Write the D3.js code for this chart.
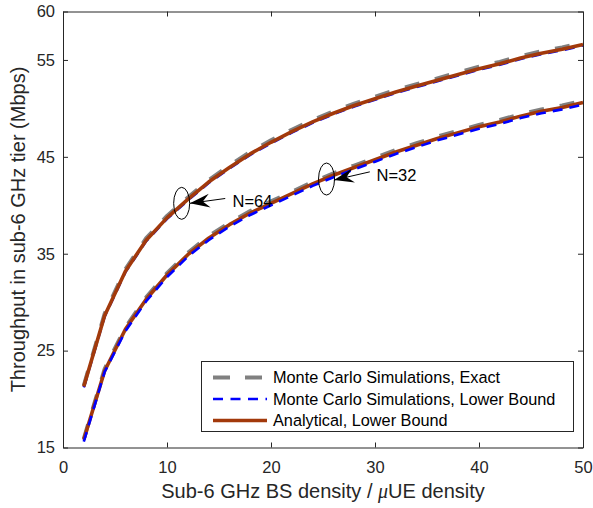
<!DOCTYPE html>
<html>
<head>
<meta charset="utf-8">
<script src="https://cdn.jsdelivr.net/npm/d3@7"></script>
<style>
  html, body { margin: 0; padding: 0; background: #fff; }
  svg { display: block; font-family: "Liberation Sans", Arial, Helvetica, sans-serif; }
</style>
</head>
<body>
<svg id="chart" width="593" height="508"></svg>
<script>
// ---- data ----
const xValues = [2,4,6,8,10,12,14,16,18,20,22,24,26,28,30,32,34,36,38,40,42,44,46,48,50];

// N = 64
const exact64 = [21.4,28.8,33.4,36.6,38.9,40.8,42.6,44.1,45.5,46.7,47.8,48.8,49.7,50.5,51.2,51.9,52.5,53.1,53.7,54.3,54.8,55.4,55.9,56.3,56.8];
const lower64 = [21.2,28.5,33.1,36.3,38.6,40.5,42.3,43.8,45.2,46.4,47.5,48.5,49.4,50.2,50.9,51.6,52.2,52.8,53.4,54.0,54.5,55.1,55.6,56.0,56.5];
const analytic64 = [21.3,28.6,33.2,36.4,38.7,40.6,42.4,43.9,45.3,46.5,47.6,48.6,49.5,50.3,51.0,51.7,52.3,52.9,53.5,54.1,54.6,55.2,55.7,56.1,56.6];

// N = 32
const exact32 = [15.9,23.1,27.4,30.5,33.0,35.1,36.8,38.2,39.4,40.4,41.4,42.4,43.3,44.1,44.9,45.7,46.4,47.1,47.7,48.3,48.8,49.4,49.9,50.3,50.8];
const lower32 = [15.6,22.8,27.0,30.1,32.6,34.7,36.4,37.8,39.0,40.0,41.0,42.0,42.9,43.7,44.5,45.3,46.0,46.7,47.3,47.9,48.4,49.0,49.5,49.9,50.4];
const analytic32 = [15.8,22.9,27.2,30.3,32.8,34.9,36.6,38.0,39.2,40.2,41.2,42.2,43.1,43.9,44.7,45.5,46.2,46.9,47.5,48.1,48.6,49.2,49.7,50.1,50.6];

const xTicks = [0,10,20,30,40,50];
const yTicks = [15,25,35,45,55,60];
const legendLabels = ["Monte Carlo Simulations, Exact", "Monte Carlo Simulations, Lower Bound", "Analytical, Lower Bound"];
// annotations: ellipse centre, arrow tail, arrow tip, label start (data units)
const annotations = [
  {label: "N=64", cx: 11.41, cy: 40.2, tx: 15.6, ty: 40.7, hx: 12.2, hy: 40.2, lx: 16.3, ly: 40.45},
  {label: "N=32", cx: 25.34, cy: 42.71, tx: 29.5, ty: 43.45, hx: 26.05, hy: 42.6, lx: 30.15, ly: 43.1}
];

// ---- layout ----
const svg = d3.select("#chart");
const L = 63, R = 583, T = 11.5, B = 447.5;
const axisColor = "#262626";
const x = d3.scaleLinear().domain([0, 50]).range([L, R]);
const y = d3.scaleLinear().domain([15, 60]).range([B, T]);

const styles = {
  exact: {color: "#808080", width: 4, dash: "15,16"},
  lower: {color: "#0000ff", width: 2.6, dash: "10,7"},
  analytic: {color: "#a2390b", width: 3.6, dash: null}
};

const line = d3.line().x((d, i) => x(xValues[i])).y(d => y(d));

function drawSeries(vals, st) {
  const p = svg.append("path").datum(vals)
    .attr("d", line)
    .attr("fill", "none")
    .attr("stroke", st.color)
    .attr("stroke-width", st.width)
    .attr("stroke-linejoin", "round");
  if (st.dash) p.attr("stroke-dasharray", st.dash);
}

// N=64 group
drawSeries(exact64, styles.exact);
drawSeries(lower64, styles.lower);
drawSeries(analytic64, styles.analytic);
// N=32 group
drawSeries(exact32, styles.exact);
drawSeries(analytic32, styles.analytic);
drawSeries(lower32, styles.lower);

// ---- axes (box with inward ticks) ----
const tickLen = 5;
const gx = svg.append("g").attr("transform", `translate(0,${B})`)
  .call(d3.axisBottom(x).tickValues(xTicks).tickSizeInner(-tickLen).tickSizeOuter(0).tickPadding(14));
const gxt = svg.append("g").attr("transform", `translate(0,${T})`)
  .call(d3.axisTop(x).tickValues(xTicks).tickSizeInner(-tickLen).tickSizeOuter(0).tickFormat(""));
const gy = svg.append("g").attr("transform", `translate(${L},0)`)
  .call(d3.axisLeft(y).tickValues(yTicks).tickSizeInner(-tickLen).tickSizeOuter(0).tickPadding(8));
const gyr = svg.append("g").attr("transform", `translate(${R},0)`)
  .call(d3.axisRight(y).tickValues(yTicks).tickSizeInner(-tickLen).tickSizeOuter(0).tickFormat(""));

[gx, gxt, gy, gyr].forEach(g => {
  g.select(".domain").attr("stroke", axisColor).attr("stroke-width", 1);
  g.selectAll(".tick line").attr("stroke", axisColor).attr("stroke-width", 1);
  g.selectAll(".tick text").attr("fill", axisColor).attr("font-size", 16.5)
    .attr("font-family", '"Liberation Sans", Arial, sans-serif');
});

// ---- axis labels ----
const xl = svg.append("text")
  .attr("x", (L + R) / 2).attr("y", 498)
  .attr("text-anchor", "middle").attr("font-size", 20).attr("fill", axisColor);
xl.append("tspan").text("Sub-6 GHz BS density / ");
xl.append("tspan").text("\u03bc").attr("font-style", "italic").attr("font-family", '"Liberation Serif", "Times New Roman", serif');
xl.append("tspan").text("UE density");

svg.append("text")
  .attr("transform", `translate(25,${(T + B) / 2}) rotate(-90)`)
  .attr("text-anchor", "middle").attr("font-size", 20).attr("fill", axisColor)
  .text("Throughput in sub-6 GHz tier (Mbps)");

// ---- annotations ----
annotations.forEach(a => {
  svg.append("ellipse")
    .attr("cx", x(a.cx)).attr("cy", y(a.cy)).attr("rx", 8).attr("ry", 16)
    .attr("fill", "none").attr("stroke", "#000").attr("stroke-width", 1);
  const x1 = x(a.tx), y1 = y(a.ty), x2 = x(a.hx), y2 = y(a.hy);
  const ang = Math.atan2(y2 - y1, x2 - x1) * 180 / Math.PI;
  svg.append("line").attr("x1", x1).attr("y1", y1).attr("x2", x2).attr("y2", y2)
    .attr("stroke", "#000").attr("stroke-width", 1);
  svg.append("path")
    .attr("d", "M0,0 L-20,-7 L-13,0 L-20,7 Z")
    .attr("transform", `translate(${x2},${y2}) rotate(${ang})`)
    .attr("fill", "#000");
  svg.append("text").attr("x", x(a.lx)).attr("y", y(a.ly)).attr("dy", "0.35em")
    .attr("font-size", 16.5).attr("fill", "#000").text(a.label);
});

// ---- legend ----
const lg = svg.append("g");
lg.append("rect").attr("x", 201.5).attr("y", 361.5).attr("width", 372).attr("height", 70)
  .attr("fill", "#fff").attr("stroke", axisColor).attr("stroke-width", 1);
const legendStyles = [styles.exact, styles.lower, styles.analytic];
legendLabels.forEach((lab, i) => {
  const yy = 377.5 + i * 21.5;
  const st = legendStyles[i];
  const ln = lg.append("line").attr("x1", 213).attr("x2", 267).attr("y1", yy).attr("y2", yy)
    .attr("stroke", st.color).attr("stroke-width", st.width);
  if (i === 0) ln.attr("stroke-dasharray", "17,15");
  if (i === 1) ln.attr("stroke-dasharray", "10,7.5");
  lg.append("text").attr("x", 273).attr("y", yy).attr("dy", "0.35em")
    .attr("font-size", 16.3).attr("fill", "#000").text(lab);
});
</script>
</body>
</html>
